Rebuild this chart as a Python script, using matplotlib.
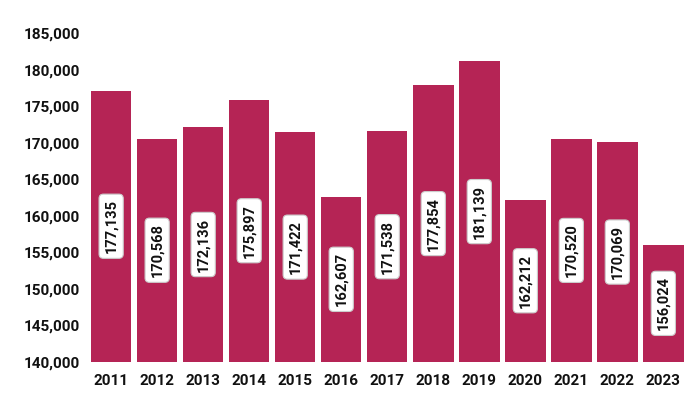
import matplotlib.pyplot as plt
from matplotlib.ticker import FuncFormatter

plt.rcParams['font.family'] = ['Roboto', 'DejaVu Sans']

years = ['2011', '2012', '2013', '2014', '2015', '2016', '2017',
         '2018', '2019', '2020', '2021', '2022', '2023']
values = [177135, 170568, 172136, 175897, 171422, 162607, 171538,
          177854, 181139, 162212, 170520, 170069, 156024]

ymin, ymax = 140000, 185000

fig = plt.figure(figsize=(6.94, 3.99), dpi=100)
ax = fig.add_axes([0.127, 0.093, 0.862, 0.824])

x = range(len(years))
ax.bar(x, [v - ymin for v in values], bottom=ymin, width=0.88, color='#B52455')

for i, v in enumerate(values):
    ax.text(i, (v + ymin) / 2, f'{v:,}', rotation=90, ha='center', va='center',
            fontsize=10.5, fontweight='bold', color='#111111',
            bbox=dict(boxstyle='round,pad=0.35,rounding_size=0.3', fc='white',
                      ec='#cccccc', lw=0.8))

ax.set_ylim(ymin, ymax)
ax.set_xlim(-0.5, len(years) - 0.5)
ax.set_yticks(range(ymin, ymax + 1, 5000))
ax.yaxis.set_major_formatter(FuncFormatter(lambda v, p: f'{int(v):,}'))
ax.set_xticks(list(x))
ax.set_xticklabels(years)

for s in ax.spines.values():
    s.set_visible(False)
ax.tick_params(length=0, labelsize=11, colors='#111111')
ax.tick_params(axis='y', pad=6)
ax.tick_params(axis='x', pad=9)
for lab in ax.get_xticklabels() + ax.get_yticklabels():
    lab.set_fontweight('bold')

fig.savefig('out.png', dpi=100)
